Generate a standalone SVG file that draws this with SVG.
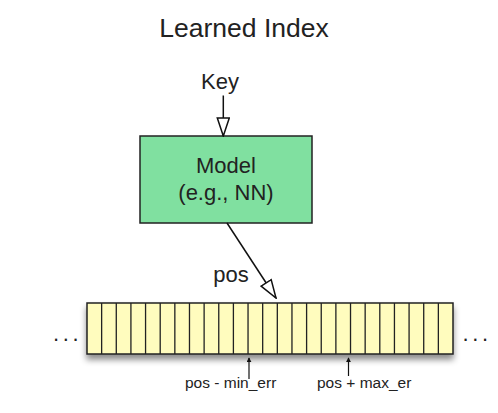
<svg xmlns="http://www.w3.org/2000/svg" width="498" height="413" viewBox="0 0 498 413">
<style>
text{font-family:"Liberation Sans",Arial,Helvetica,sans-serif;fill:#222;}
.lbl{font-size:22px;text-anchor:middle;}
.small{font-size:15.5px;}
.dots{font-size:22px;letter-spacing:3.6px;}
.edge{stroke:#111;stroke-width:1.5;fill:none;}
.thin{stroke:#111;stroke-width:1.2;fill:none;}
</style>
<defs>
<marker id="open" viewBox="0 0 20 14" refX="19" refY="7" markerWidth="20" markerHeight="14" markerUnits="userSpaceOnUse" orient="auto">
<path d="M1,1 L19,7 L1,13 Z" fill="#fff" stroke="#111" stroke-width="1.5"/>
</marker>
<marker id="tiny" viewBox="0 0 6 6" refX="5" refY="3" markerWidth="5" markerHeight="5" markerUnits="userSpaceOnUse" orient="auto">
<path d="M0,0 L6,3 L0,6 Z" fill="#111"/>
</marker>
<filter id="shadow" x="-5%" y="-20%" width="110%" height="160%">
<feDropShadow dx="0" dy="5" stdDeviation="3" flood-color="#000" flood-opacity="0.45"/>
</filter>
</defs>
<rect width="498" height="413" fill="#fff"/>
<text x="244" y="37" font-size="26.5" text-anchor="middle">Learned Index</text>
<g id="key">
<text class="lbl" x="220" y="89">Key</text>
</g>
<g id="model">
<rect x="140" y="136" width="172" height="87" fill="#80e0a0" stroke="#222" stroke-width="1.5"/>
<text class="lbl" x="226" y="173">Model</text>
<text class="lbl" x="226" y="200">(e.g., NN)</text>
</g>
<g id="array">
<rect x="87" y="303" width="366" height="51" fill="#fffcbe" stroke="#222" stroke-width="1.5" filter="url(#shadow)"/>
<path d="M101.64,303V354M116.28,303V354M130.92,303V354M145.56,303V354M160.2,303V354M174.84,303V354M189.48,303V354M204.12,303V354M218.76,303V354M233.4,303V354M248.04,303V354M262.68,303V354M277.32,303V354M291.96,303V354M306.6,303V354M321.24,303V354M335.88,303V354M350.52,303V354M365.16,303V354M379.8,303V354M394.44,303V354M409.08,303V354M423.72,303V354M438.36,303V354" stroke="#222" stroke-width="1.3"/>
<text class="dots" x="53" y="341">...</text>
<text class="dots" x="462.6" y="341">...</text>
</g>
<g id="labels">
<text class="lbl" x="231" y="282">pos</text>
<text class="small" x="185" y="388">pos - min_err</text>
<text class="small" x="317" y="388">pos + max_er</text>
</g>
<g id="connectors">
<line class="edge" x1="223.3" y1="95.5" x2="223.3" y2="136" marker-end="url(#open)"/>
<line class="edge" x1="227" y1="223" x2="276" y2="298" marker-end="url(#open)"/>
<line class="thin" x1="249" y1="379" x2="249" y2="358" marker-end="url(#tiny)"/>
<line class="thin" x1="348.5" y1="376" x2="348.5" y2="358" marker-end="url(#tiny)"/>
</g>
</svg>
